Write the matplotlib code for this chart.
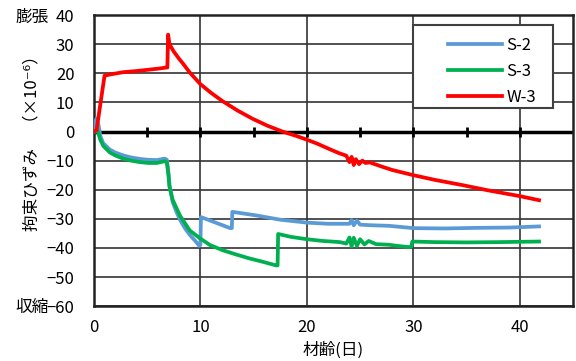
import matplotlib
matplotlib.use('Agg')
import matplotlib.pyplot as plt
from matplotlib.patches import Rectangle

plt.rcParams['font.family'] = ['Noto Sans CJK JP', 'DejaVu Sans']
plt.rcParams['font.size'] = 12

# S-2 (blue)
s2_day = [0.0, 0.1, 0.25, 0.45, 0.6, 0.87, 1.5, 2.0, 2.75, 3.5, 4.3, 5.1, 5.9, 6.65, 6.85,
          7.0, 7.1, 7.4, 7.8, 8.1, 8.6, 9.0, 9.5, 9.9, 10.0, 10.05, 10.5, 11.5, 12.8, 12.95,
          13.0, 15.2, 17.5, 20.0, 22.0, 24.0, 24.2, 24.4, 24.7, 25.0, 26.0, 27.7, 30.0, 33.0,
          36.0, 39.0, 41.8]
s2_val = [0.0, 2.5, 4.5, 2.0, -1.5, -4.0, -6.2, -7.2, -8.2, -8.9, -9.4, -9.7, -9.8, -9.3, -9.7,
          -14.0, -18.5, -24.3, -28.0, -30.4, -33.5, -35.5, -37.5, -39.3, -39.0, -29.4, -30.0, -31.4, -33.2, -33.2,
          -27.6, -28.8, -30.3, -31.3, -31.7, -31.7, -30.4, -32.2, -30.6, -32.0, -32.2, -32.4, -33.2, -33.3,
          -33.1, -33.0, -32.6]

# S-3 (green)
s3_day = [0.0, 0.35, 0.6, 0.9, 1.5, 2.0, 2.75, 3.5, 4.3, 5.1, 5.9, 6.65, 6.85, 7.0, 7.1, 7.4,
          8.1, 9.0, 10.0, 10.9, 12.1, 13.4, 14.6, 15.9, 17.1, 17.25, 17.3, 18.5, 20.0, 21.5, 23.1,
          23.7, 24.0, 24.2, 24.4, 24.7, 25.0, 25.4, 25.8, 26.5, 27.7, 28.5, 29.5, 29.8, 29.9,
          32.0, 35.0, 38.0, 41.8]
s3_val = [0.0, 0.3, -2.8, -5.0, -7.2, -8.2, -9.3, -10.0, -10.5, -10.8, -10.8, -10.2, -10.6, -15.0, -19.0, -23.5,
          -29.0, -34.0, -36.8, -39.0, -40.8, -42.3, -43.6, -44.8, -46.0, -46.0, -35.2, -36.2, -37.0, -37.6, -38.0,
          -38.5, -36.4, -39.5, -36.5, -39.3, -37.0, -38.8, -37.6, -38.7, -38.9, -39.3, -39.7, -39.6, -37.8,
          -38.0, -38.1, -38.0, -37.8]

# W-3 (red)
w3_day = [0.0, 0.25, 1.0, 1.5, 2.75, 4.0, 5.0, 6.0, 6.8, 6.9, 6.97, 7.1, 7.5, 8.0, 8.4, 9.0,
          10.0, 11.0, 12.1, 13.5, 14.9, 16.3, 17.7, 19.0, 20.0, 21.0, 22.1, 23.0, 23.7, 24.0,
          24.2, 24.4, 24.6, 24.9, 25.2, 25.5, 25.9, 27.0, 28.0, 30.0, 32.0, 34.6, 37.0, 40.0, 41.8]
w3_val = [0.0, 0.5, 19.2, 19.6, 20.4, 20.8, 21.2, 21.6, 22.0, 22.0, 33.3, 30.0, 27.5, 25.0, 23.2, 20.3,
          16.3, 13.3, 10.4, 7.2, 4.4, 2.0, 0.0, -1.5, -2.8, -4.2, -6.0, -7.4, -8.3, -10.5,
          -8.7, -11.5, -9.5, -11.2, -10.0, -10.8, -10.6, -12.0, -13.2, -15.0, -16.6, -18.4, -20.2, -22.2, -23.6]

zero_marks = [5, 10, 15, 20, 25, 30, 35, 40]

fig = plt.figure(figsize=(5.76, 3.61), dpi=100)
ax = fig.add_axes([0.163, 0.152, 0.832, 0.806])

ax.plot(s2_day, s2_val, color='#5B9BD5', lw=2.7, label='S-2', zorder=3)
ax.plot(s3_day, s3_val, color='#00B050', lw=2.7, label='S-3', zorder=3)
ax.plot(w3_day, w3_val, color='#FF0000', lw=2.7, label='W-3', zorder=3)

ax.set_xlim(0, 45)
ax.set_ylim(-60, 40)
ax.set_xticks([0, 10, 20, 30, 40])
ax.set_yticks(range(-60, 41, 10))
ax.grid(True, color='#333333', lw=1.2)
ax.set_axisbelow(True)
ax.tick_params(length=0, labelsize=12)
ax.tick_params(axis='y', pad=14)
ax.tick_params(axis='x', pad=9)
for sp in ax.spines.values():
    sp.set_linewidth(1.8)
    sp.set_color('#222222')

# zero line with marks
ax.axhline(0, color='black', lw=2.5, zorder=2)
ax.plot(zero_marks, [0] * len(zero_marks), ls='none', marker='|', ms=7, mew=2,
        color='black', zorder=2)

ax.set_xlabel('材齢(日)', fontsize=12, labelpad=4)
fig.text(0.055, 0.615, '拘束ひずみ\u3000（×10⁻⁶）', rotation=90, ha='center', va='center',
         fontsize=12)
fig.text(0.055, 0.953, '膨張', ha='center', va='center', fontsize=12)
fig.text(0.055, 0.147, '収縮', ha='center', va='center', fontsize=12)

# legend box
ax.add_patch(Rectangle((0.665, 0.68), 0.294, 0.286, transform=ax.transAxes,
                       facecolor='white', edgecolor='#404040', lw=1.5, zorder=4))
leg = ax.legend(loc='upper left', bbox_to_anchor=(0.722, 0.955), frameon=False,
                borderpad=0, handlelength=3.2, handletextpad=0.3, labelspacing=0.55,
                fontsize=12)
leg.set_zorder(5)

fig.savefig('out.png', dpi=100)
